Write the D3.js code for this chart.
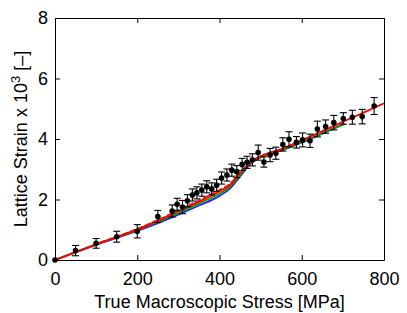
<!DOCTYPE html>
<html><head><meta charset="utf-8">
<script src="https://cdn.jsdelivr.net/npm/d3@7"></script>
<style>body{margin:0;background:#fff}svg{display:block}</style>
</head><body>
<script>
// Experimental data (stress MPa, lattice strain x1e3, error)
const stress = [0,50,100,150,200,250,285,297,310,322,334,345,357,369,381,393,405,418,430,442,455,467,480,494,508,523,537,554,569,587,602,620,638,658,678,701,723,747,776];
const strain = [0,0.31,0.55,0.77,0.95,1.44,1.62,1.84,1.75,1.96,2.15,2.22,2.31,2.42,2.35,2.47,2.71,2.81,2.97,2.92,3.16,3.23,3.31,3.55,3.24,3.47,3.53,3.82,3.99,3.89,3.97,3.94,4.33,4.41,4.54,4.68,4.72,4.74,5.09];
const strainErr = [0.04,0.17,0.16,0.18,0.22,0.2,0.2,0.2,0.22,0.2,0.2,0.2,0.2,0.2,0.2,0.2,0.2,0.2,0.2,0.2,0.2,0.2,0.2,0.25,0.17,0.22,0.2,0.22,0.25,0.19,0.23,0.22,0.26,0.22,0.24,0.19,0.23,0.24,0.28];

// Model curves
const blueX = [0,100,200,250,300,350,400,425,450,475,500,550,600,650,700];
const blueY = [0,0.5,0.96,1.22,1.5,1.8,2.12,2.36,2.76,3.18,3.4,3.62,3.88,4.18,4.48];
const greenX = [0,100,200,250,300,350,400,425,450,475,500,550,600,650,705];
const greenY = [0,0.51,0.99,1.27,1.56,1.87,2.2,2.42,2.8,3.2,3.4,3.63,3.89,4.19,4.5];
const redDashX = [0,100,200,250,300,350,400,425,450,475,500,550,600,650,700];
const redDashY = [0,0.53,1.03,1.33,1.65,1.98,2.32,2.52,2.88,3.24,3.43,3.67,3.95,4.25,4.56];
const redX = [0,100,200,250,300,350,400,425,450,475,500,550,600,650,700,750,800];
const redY = [0,0.52,1.01,1.3,1.61,1.93,2.27,2.48,2.86,3.23,3.43,3.67,3.96,4.26,4.57,4.87,5.18];

const xTicks = [0,200,400,600,800];
const yTicks = [0,2,4,6,8];

const W = 407, H = 313;
const m = {left:55, right:23, top:18, bottom:53};
const svg = d3.select("body").append("svg").attr("width",W).attr("height",H);
const x = d3.scaleLinear().domain([0,800]).range([m.left, W-m.right]);
const y = d3.scaleLinear().domain([0,8]).range([H-m.bottom, m.top]);

const font = "'Liberation Sans', Arial, Helvetica, sans-serif";

// axes (inward ticks on all sides)
const tl = 5;
const gB = svg.append("g").attr("transform",`translate(0,${y(0)})`)
  .call(d3.axisBottom(x).tickValues(xTicks).tickSizeInner(-tl).tickSizeOuter(0).tickPadding(12).tickFormat(d3.format("d")));
const gT = svg.append("g").attr("transform",`translate(0,${y(8)})`)
  .call(d3.axisTop(x).tickValues(xTicks).tickSizeInner(-tl).tickSizeOuter(0).tickFormat(""));
const gL = svg.append("g").attr("transform",`translate(${x(0)},0)`)
  .call(d3.axisLeft(y).tickValues(yTicks).tickSizeInner(-tl).tickSizeOuter(0).tickPadding(7).tickFormat(d3.format("d")));
const gR = svg.append("g").attr("transform",`translate(${x(800)},0)`)
  .call(d3.axisRight(y).tickValues(yTicks).tickSizeInner(-tl).tickSizeOuter(0).tickFormat(""));
[gB,gT,gL,gR].forEach(g=>{
  g.selectAll(".domain").attr("stroke","#000").attr("stroke-width",1);
  g.selectAll(".tick line").attr("stroke","#000").attr("stroke-width",1);
  g.selectAll("text").attr("font-family",font).attr("font-size",18).attr("fill","#000");
});

// curves
const line = d3.line().x(d=>x(d[0])).y(d=>y(d[1])).curve(d3.curveMonotoneX);
function curve(xs, ys, color, w, dash){
  svg.append("path").datum(xs.map((v,i)=>[v,ys[i]]))
    .attr("d",line).attr("fill","none").attr("stroke",color).attr("stroke-width",w)
    .attr("stroke-dasharray",dash||null);
}
curve(blueX, blueY, "#1f1fff", 1.8);
curve(greenX, greenY, "#00a000", 1.8);
curve(redDashX, redDashY, "#ff2020", 1.6, "6,2");
curve(redX, redY, "#ff0000", 1.8);

// error bars + points
const pts = stress.map((s,i)=>({s, v:strain[i], e:strainErr[i]}));
const eb = svg.append("g").attr("stroke","#000").attr("stroke-width",1.1);
const cw = 3.5;
pts.forEach(p=>{
  if (p.e < 0.05) return;
  const cx = x(p.s), y1 = y(p.v+p.e), y2 = y(p.v-p.e);
  eb.append("line").attr("x1",cx).attr("x2",cx).attr("y1",y1).attr("y2",y2);
  eb.append("line").attr("x1",cx-cw).attr("x2",cx+cw).attr("y1",y1).attr("y2",y1);
  eb.append("line").attr("x1",cx-cw).attr("x2",cx+cw).attr("y1",y2).attr("y2",y2);
});
svg.append("g").selectAll("circle").data(pts).join("circle")
  .attr("cx",d=>x(d.s)).attr("cy",d=>y(d.v)).attr("r",2.8).attr("fill","#000");

// labels
svg.append("text").attr("x",(x(0)+x(800))/2).attr("y",308)
  .attr("text-anchor","middle").attr("font-family",font).attr("font-size",18)
  .text("True Macroscopic Stress [MPa]");
const yl = svg.append("text").attr("transform",`translate(27,${(y(0)+y(8))/2}) rotate(-90)`)
  .attr("text-anchor","middle").attr("font-family",font).attr("font-size",18);
yl.append("tspan").text("Lattice Strain x 10");
yl.append("tspan").attr("dy",-7).attr("font-size",13).text("3");
yl.append("tspan").attr("dy",7).text(" [–]");
</script>
</body></html>
